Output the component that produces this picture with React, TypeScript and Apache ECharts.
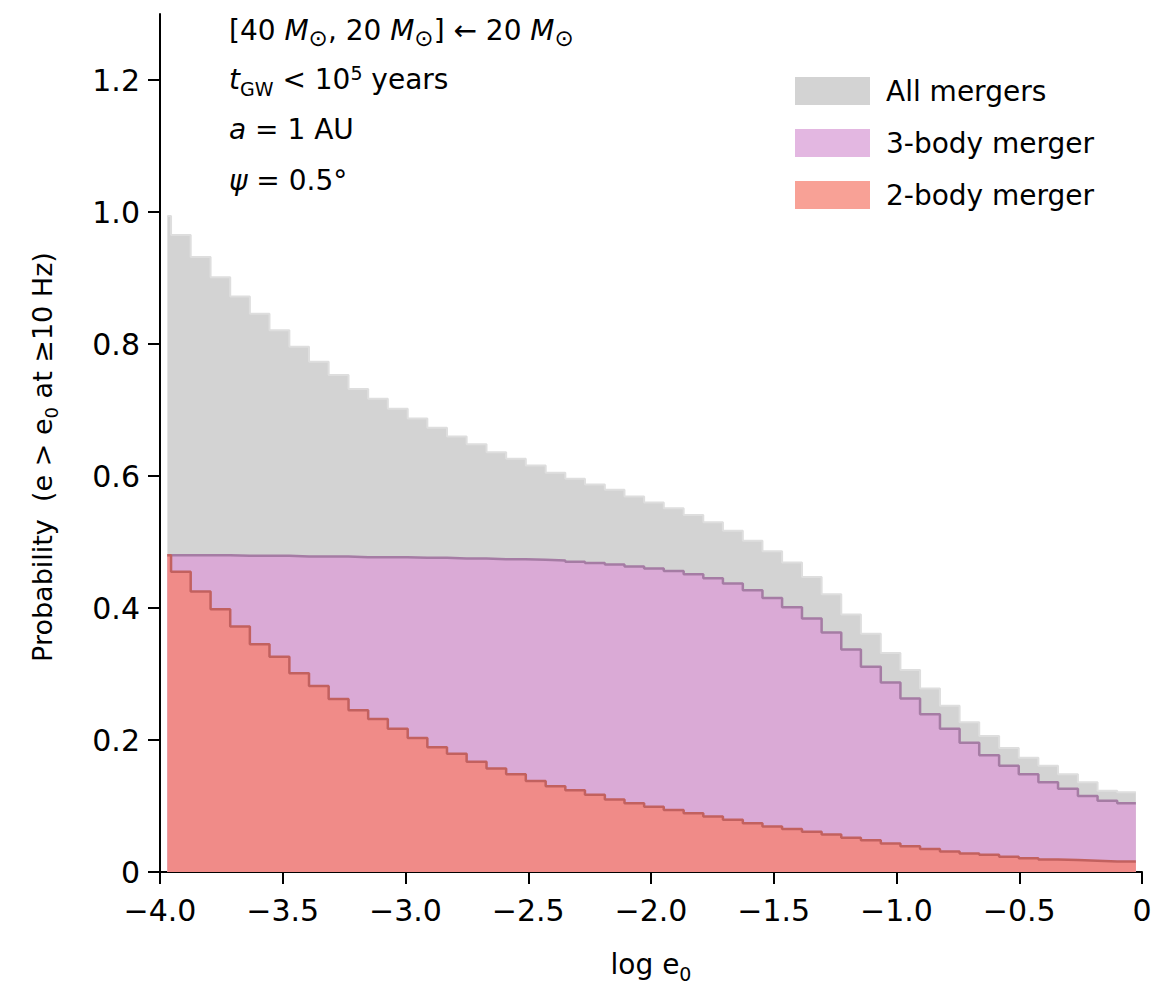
import React, { useEffect, useRef } from 'react';
import * as echarts from 'echarts';

// Bin edges in log e0 (first bin is a narrow sliver at the left end)
const BIN_EDGES = [
  -3.97,
  -3.955, -3.875, -3.794, -3.714, -3.634, -3.554, -3.473, -3.393, -3.313, -3.232,
  -3.152, -3.072, -2.991, -2.911, -2.831, -2.751, -2.67, -2.59, -2.51, -2.429,
  -2.349, -2.269, -2.188, -2.108, -2.028, -1.948, -1.867, -1.787, -1.707, -1.626,
  -1.546, -1.466, -1.385, -1.305, -1.225, -1.145, -1.064, -0.984, -0.904, -0.823,
  -0.743, -0.663, -0.582, -0.502, -0.422, -0.342, -0.261, -0.181, -0.101,
  -0.025,
];

const ALL_MERGERS = [
  0.994, 0.965, 0.932, 0.901, 0.872, 0.846, 0.821, 0.796, 0.773, 0.753,
  0.732, 0.717, 0.702, 0.687, 0.673, 0.66, 0.648, 0.636, 0.626, 0.616,
  0.605, 0.596, 0.587, 0.579, 0.569, 0.56, 0.551, 0.541, 0.53, 0.517,
  0.502, 0.486, 0.469, 0.447, 0.421, 0.39, 0.361, 0.332, 0.306, 0.278,
  0.252, 0.227, 0.206, 0.188, 0.173, 0.161, 0.148, 0.136, 0.123, 0.121,
];

const THREE_BODY = [
  0.48, 0.48, 0.48, 0.48, 0.479, 0.479, 0.479, 0.478, 0.478, 0.478,
  0.477, 0.477, 0.477, 0.476, 0.476, 0.475, 0.475, 0.474, 0.474, 0.473,
  0.472, 0.47, 0.468, 0.466, 0.463, 0.46, 0.456, 0.451, 0.445, 0.437,
  0.427, 0.415, 0.401, 0.384, 0.363, 0.337, 0.311, 0.287, 0.263, 0.239,
  0.217, 0.196, 0.177, 0.161, 0.148, 0.136, 0.126, 0.115, 0.108, 0.104,
];

const TWO_BODY = [
  0.48, 0.455, 0.425, 0.398, 0.372, 0.345, 0.326, 0.301, 0.282, 0.262,
  0.245, 0.232, 0.217, 0.203, 0.189, 0.179, 0.167, 0.157, 0.148, 0.138,
  0.13, 0.124, 0.117, 0.11, 0.104, 0.099, 0.094, 0.089, 0.084, 0.079,
  0.074, 0.069, 0.065, 0.061, 0.057, 0.052, 0.048, 0.043, 0.039, 0.035,
  0.031, 0.028, 0.026, 0.023, 0.021, 0.019, 0.018, 0.017, 0.016, 0.016,
];

const SERIES_NAMES = ['All mergers', '3-body merger', '2-body merger'];
const Y_TICKS = [0, 0.2, 0.4, 0.6, 0.8, 1.0, 1.2];

const FONT = 'DejaVu Sans';

function toStepPoints(values: number[]) {
  return BIN_EDGES.map((x, i) => [x, values[Math.min(i, values.length - 1)]]);
}

export default function App() {
  const ref = useRef<HTMLDivElement>(null);

  useEffect(() => {
    if (!ref.current) return;
    const chart = echarts.init(ref.current, null, { renderer: 'svg' });

    const seriesDefs = [
      { name: SERIES_NAMES[0], values: ALL_MERGERS, fill: '#d3d3d3', line: '#dedede', lw: 2 },
      { name: SERIES_NAMES[1], values: THREE_BODY, fill: '#daaad6', line: '#a57ca4', lw: 2.5 },
      { name: SERIES_NAMES[2], values: TWO_BODY, fill: '#f08b88', line: '#c2615f', lw: 2.5 },
    ];
    const legendColors = ['#d3d3d3', '#e3b7e1', '#f8a196'];

    const sub = { fontSize: 19, fontFamily: FONT, padding: [20, 0, 0, 0], color: '#000' };
    const sun = { fontSize: 23, fontFamily: FONT, padding: [16, 0, 0, 0], color: '#000' };
    const sup = { fontSize: 19, fontFamily: FONT, padding: [0, 0, 12, 0], color: '#000' };
    const ital = { fontStyle: 'italic', fontSize: 28, fontFamily: FONT, color: '#000' };

    const annot = (y: number, text: string) => ({
      type: 'text',
      x: 229,
      y,
      style: {
        text,
        fontSize: 28,
        fontFamily: FONT,
        fill: '#000',
        verticalAlign: 'middle',
        align: 'left',
        rich: { i: ital, s: sub, o: sun, p: sup },
      },
    });

    chart.setOption({
      animation: false,
      backgroundColor: '#ffffff',
      grid: { left: 160, right: 26, top: 14, bottom: 114, outerBoundsMode: 'none' },
      xAxis: {
        type: 'value',
        min: -4,
        max: 0,
        interval: 0.5,
        axisLine: { show: true, onZero: false, lineStyle: { color: '#000', width: 2 } },
        axisTick: { show: true, length: 12, lineStyle: { color: '#000', width: 2 } },
        axisLabel: {
          fontSize: 30,
          fontFamily: FONT,
          color: '#000',
          margin: 23,
          formatter: (v: number) => (v === 0 ? '0' : (v < 0 ? '\u2212' : '') + Math.abs(v).toFixed(1)),
        },
        splitLine: { show: false },
      },
      yAxis: {
        type: 'value',
        min: 0,
        max: 1.3,
        axisLine: { show: true, onZero: false, lineStyle: { color: '#000', width: 2 } },
        axisTick: { show: true, length: 12, customValues: Y_TICKS, lineStyle: { color: '#000', width: 2 } },
        axisLabel: {
          fontSize: 30,
          fontFamily: FONT,
          color: '#000',
          margin: 20,
          customValues: Y_TICKS,
          formatter: (v: number) => (v === 0 ? '0' : v.toFixed(1)),
        },
        splitLine: { show: false },
      },
      legend: {
        orient: 'vertical',
        left: 790,
        top: 72,
        itemWidth: 75,
        itemHeight: 28,
        itemGap: 24,
        icon: 'rect',
        selectedMode: false,
        textStyle: { fontSize: 28, fontFamily: FONT, color: '#000', padding: [0, 0, 0, 11] },
        data: SERIES_NAMES.map((n, i) => ({
          name: n,
          icon: 'rect',
          itemStyle: { color: legendColors[i], borderWidth: 0 },
        })),
      },
      series: seriesDefs.map((s, i) => ({
        name: s.name,
        type: 'line',
        step: 'end',
        data: toStepPoints(s.values),
        symbol: 'none',
        showSymbol: false,
        z: 2 + i,
        color: s.fill,
        lineStyle: { color: s.line, width: s.lw },
        itemStyle: { color: s.fill },
        areaStyle: { color: s.fill, opacity: 1 },
        emphasis: { disabled: true },
      })),
      graphic: [
        annot(30, '[40 {i|M}{o|⊙}, 20 {i|M}{o|⊙}] ← 20 {i|M}{o|⊙}'),
        annot(79, '{i|t}{s|GW} < 10{p|5} years'),
        annot(129, '{i|a} = 1 AU'),
        annot(180, '{i|ψ} = 0.5°'),
        {
          type: 'text',
          x: 42,
          y: 457,
          rotation: Math.PI / 2,
          style: {
            text: 'Probability  (e > e{s|0} at ≥10 Hz)',
            fontSize: 27,
            fontFamily: FONT,
            fill: '#000',
            align: 'center',
            verticalAlign: 'middle',
            rich: { s: { fontSize: 18, fontFamily: FONT, padding: [18, 0, 0, 0], color: '#000' } },
          },
        },
        {
          type: 'text',
          x: 651,
          y: 964,
          style: {
            text: 'log e{s|0}',
            fontSize: 28,
            fontFamily: FONT,
            fill: '#000',
            align: 'center',
            verticalAlign: 'middle',
            rich: { s: { fontSize: 19, fontFamily: FONT, padding: [20, 0, 0, 0], color: '#000' } },
          },
        },
      ],
    });

    return () => chart.dispose();
  }, []);

  return (
    <div
      ref={ref}
      style={{ position: 'absolute', left: 0, top: 0, width: 1168, height: 986 }}
    />
  );
}
